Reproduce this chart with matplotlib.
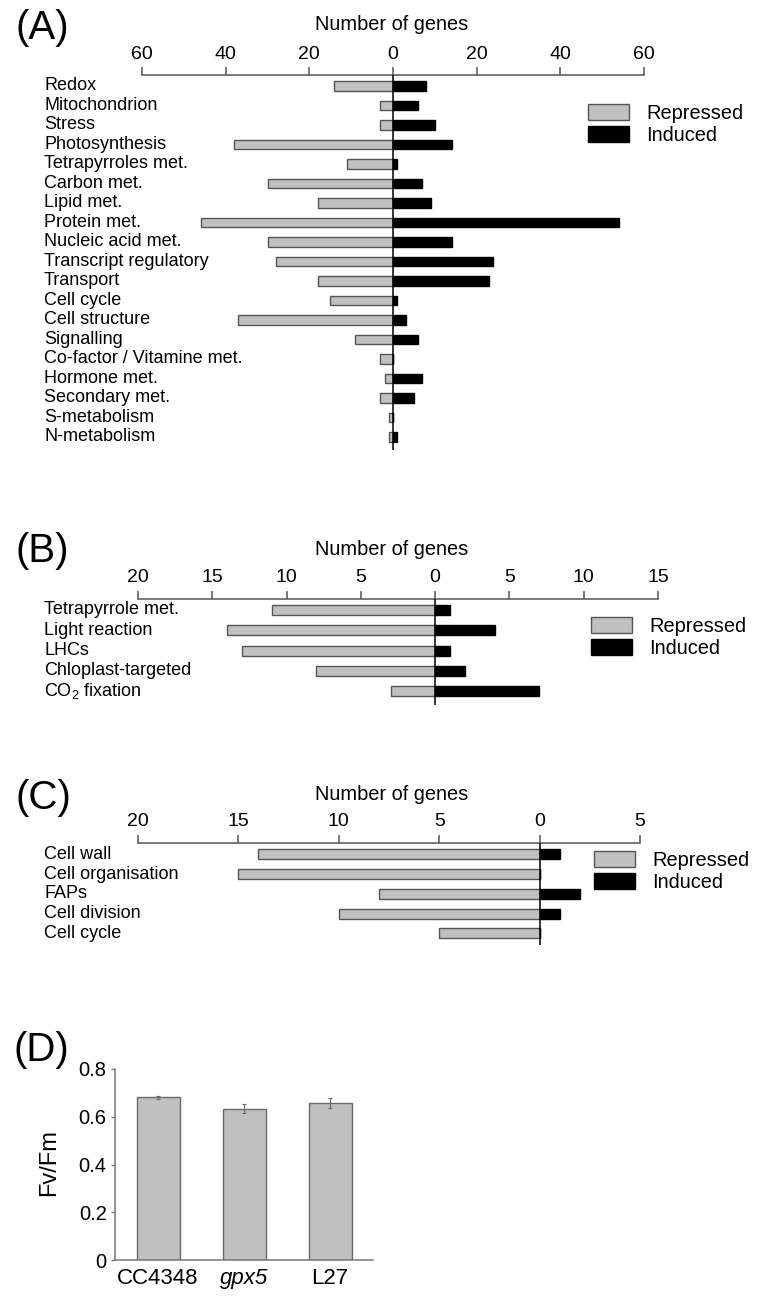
import numpy as np
import matplotlib.pyplot as plt
from matplotlib.transforms import blended_transform_factory

plt.rcParams['font.family'] = ['Liberation Sans', 'DejaVu Sans']
plt.rcParams['mathtext.fontset'] = 'custom'
plt.rcParams['mathtext.rm'] = 'Liberation Sans'
plt.rcParams['mathtext.it'] = 'Liberation Sans:italic'

W, H = 759, 1306

# ---------- data ----------
# (A) functional categories
cats_a = ["Redox", "Mitochondrion", "Stress", "Photosynthesis", "Tetrapyrroles met.",
          "Carbon met.", "Lipid met.", "Protein met.", "Nucleic acid met.",
          "Transcript regulatory", "Transport", "Cell cycle", "Cell structure",
          "Signalling", "Co-factor / Vitamine met.", "Hormone met.", "Secondary met.",
          "S-metabolism", "N-metabolism"]
rep_a = [14, 3, 3, 38, 11, 30, 18, 46, 30, 28, 18, 15, 37, 9, 3, 2, 3, 1, 1]
ind_a = [8, 6, 10, 14, 1, 7, 9, 54, 14, 24, 23, 1, 3, 6, 0, 7, 5, 0, 1]

# (B) photosynthesis related
cats_b = ["Tetrapyrrole met.", "Light reaction", "LHCs", "Chloplast-targeted",
          r"CO$_\mathrm{2}$ fixation"]
rep_b = [11, 14, 13, 8, 3]
ind_b = [1, 4, 1, 2, 7]

# (C) cell structure / cycle
cats_c = ["Cell wall", "Cell organisation", "FAPs", "Cell division", "Cell cycle"]
rep_c = [14, 15, 8, 10, 5]
ind_c = [1, 0, 2, 1, 0]

# (D) Fv/Fm
strains = ["CC4348", "gpx5", "L27"]
fvfm = [0.681, 0.634, 0.658]
fvfm_err = [0.006, 0.02, 0.02]

GREY = "#c0c0c0"
EDGE = "#555555"
AXC = "#555555"
FS_CAT = 13
FS_TICK = 14
FS_TITLE = 14.4


def add_axes_px(x0, y0, x1, y1):
    return fig.add_axes([x0 / W, 1 - y1 / H, (x1 - x0) / W, (y1 - y0) / H])


def gene_panel(box, cats, rep, ind, xmin, xmax, step, ylim, leg_xy, title_y, tag, tag_y):
    ax = add_axes_px(*box)
    y = np.arange(len(cats))
    ax.barh(y, -np.asarray(rep), height=0.5, color=GREY, edgecolor=EDGE, lw=1,
            label="Repressed")
    ax.barh(y, ind, height=0.5, color="k", edgecolor="k", lw=1, label="Induced")
    ax.axvline(0, color="k", lw=1.1, zorder=5)
    ax.set_xlim(xmin, xmax)
    ax.set_ylim(*ylim)
    for s in ["left", "right", "bottom"]:
        ax.spines[s].set_visible(False)
    ax.spines["top"].set_color(AXC)
    ax.spines["top"].set_linewidth(1.1)
    ax.xaxis.tick_top()
    ticks = np.arange(xmin, xmax + 1, step)
    ax.set_xticks(ticks)
    ax.set_xticklabels([f"{abs(t)}" for t in ticks])
    ax.tick_params(axis="x", direction="out", length=6, width=1.1, color=AXC,
                   pad=3, labelsize=FS_TICK)
    ax.set_yticks([])
    tr = blended_transform_factory(fig.transFigure, ax.transData)
    for yi, c in zip(y, cats):
        ax.text(44 / W, yi, c, transform=tr, ha="left", va="center", fontsize=FS_CAT)
    ax.legend(loc="upper left", bbox_to_anchor=(leg_xy[0] / W, 1 - leg_xy[1] / H),
              bbox_transform=fig.transFigure, frameon=False, borderpad=0,
              borderaxespad=0, handlelength=2.05, handleheight=0.8,
              handletextpad=0.85, labelspacing=0.15, fontsize=FS_TITLE)
    fig.text(392 / W, 1 - title_y / H, "Number of genes", ha="center", va="center",
             fontsize=FS_TITLE)
    fig.text(16 / W, 1 - tag_y / H, tag, ha="left", va="center", fontsize=29)
    return ax


fig = plt.figure(figsize=(W / 100, H / 100), dpi=100)

# (A)
gene_panel((142, 75, 644, 450), cats_a, rep_a, ind_a, -60, 60, 20,
           (18.67, -0.56), (588, 104), 25, "(A)", 28)
# (B)
gene_panel((138, 599, 658, 705), cats_b, rep_b, ind_b, -20, 15, 5,
           (4.68, -0.54), (591, 617), 549, "(B)", 551)
# (C)
gene_panel((138, 843, 640, 945), cats_c, rep_c, ind_c, -20, 5, 5,
           (4.59, -0.57), (594, 851), 794, "(C)", 798)

# (D)
axd = add_axes_px(115, 1069, 373, 1260)
x = np.arange(len(strains))
axd.bar(x, fvfm, width=0.5, color=GREY, edgecolor="#6a6a6a", lw=1,
        yerr=fvfm_err, ecolor="#6a6a6a", capsize=1.5, error_kw=dict(elinewidth=0.8, capthick=0.8))
axd.set_xlim(-0.5, 2.5)
axd.set_ylim(0, 0.8)
for s in ["top", "right"]:
    axd.spines[s].set_visible(False)
for s in ["left", "bottom"]:
    axd.spines[s].set_color("#777777")
    axd.spines[s].set_linewidth(1.1)
axd.set_yticks([0, 0.2, 0.4, 0.6, 0.8])
axd.set_yticklabels(["0", "0.2", "0.4", "0.6", "0.8"])
axd.tick_params(axis="y", direction="out", length=3, width=1, color="#777777",
                pad=3, labelsize=14.5)
axd.set_xticks(x)
axd.set_xticklabels(strains)
axd.get_xticklabels()[1].set_style("italic")
axd.tick_params(axis="x", length=0, pad=6, labelsize=16)
axd.set_ylabel("Fv/Fm", fontsize=17)
axd.yaxis.set_label_coords(-0.213, 0.51)
fig.text(14 / W, 1 - 1050 / H, "(D)", ha="left", va="center", fontsize=29)

fig.savefig("out.png", dpi=100)
